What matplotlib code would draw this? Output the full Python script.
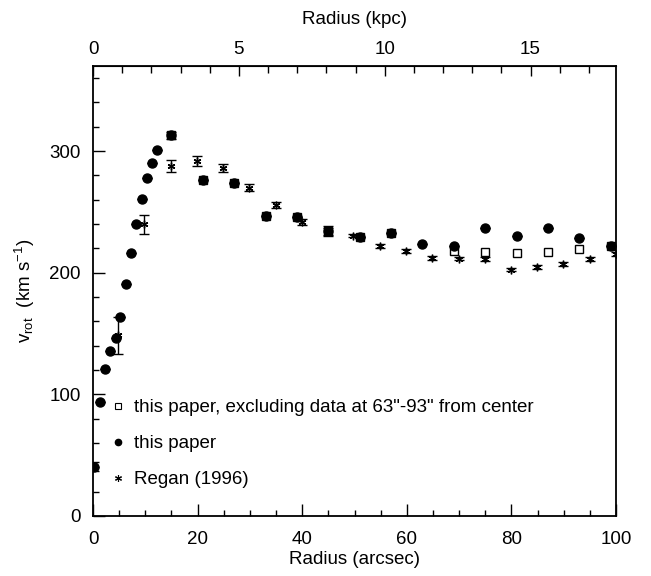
import matplotlib
matplotlib.use("Agg")
import matplotlib.pyplot as plt
from matplotlib.ticker import MultipleLocator, FixedLocator
from matplotlib.lines import Line2D

plt.rcParams['font.family'] = ['Liberation Sans', 'DejaVu Sans']
plt.rcParams['mathtext.fontset'] = 'custom'
plt.rcParams['mathtext.rm'] = 'Liberation Sans'
plt.rcParams['mathtext.it'] = 'Liberation Sans:italic'

# this paper (filled circles)
r_paper = [0.25, 1.3, 2.3, 3.3, 4.4, 5.2, 6.3, 7.3, 8.3, 9.3, 10.3, 11.3, 12.3,
           15, 21, 27, 33, 39, 45, 51, 57, 63, 69, 75, 81, 87, 93, 99]
v_paper = [40.6, 94, 121, 136, 146, 164, 190.5, 216, 240, 261, 278, 290, 301,
           313, 276.5, 274, 246.5, 246, 234.5, 229, 232.5, 224, 221.8, 236.4,
           230.3, 236.4, 228.7, 221.8]
e_paper = [4, 0, 0, 0, 0, 0, 0, 0, 0, 0, 0, 0, 0,
           3, 0, 0, 0, 0, 4, 0, 0, 0, 0, 0, 0, 0, 0, 0]

# this paper, excluding data at 63"-93" (open squares)
r_excl = [15, 21, 27, 33, 39, 45, 51, 57, 69, 75, 81, 87, 93, 99]
v_excl = [313, 276.5, 274, 246.5, 246, 234.5, 229, 232.5, 218.2, 216.9,
          216.6, 217.4, 219.6, 221.8]

# Regan (1996) (stars with errors)
r_regan = [4.8, 9.8, 14.9, 19.9, 24.9, 29.8, 34.9, 39.9, 45, 49.8, 54.9,
           59.9, 64.9, 70, 75, 79.9, 84.9, 89.9, 95, 100]
v_regan = [148.5, 239.7, 287.7, 292, 286, 270, 255.5, 242, 234, 230.6, 222,
           218, 212, 211.6, 211.4, 202.6, 204.8, 207, 211.4, 215.5]
e_regan = [15, 8, 4.7, 4, 3.5, 3, 2.5, 2.5, 3, 1.5, 1.5, 1.5, 1.5, 1.5,
           1.5, 1.5, 1.5, 1.5, 1.5, 1.5]

KPC_PER_ARCSEC = 0.1793
FS = 13.5

fig = plt.figure(figsize=(6.51, 5.76), dpi=100)
ax = fig.add_axes([0.1429, 0.1042, 0.8033, 0.7812])

ax.errorbar(r_regan, v_regan, yerr=e_regan, fmt='none', ecolor='black',
            elinewidth=1.0, capsize=3.5, capthick=1.0, zorder=2)
ax.plot(r_regan, v_regan, ls='none', marker=(6, 2, 0), ms=5.5, mew=1.0,
        color='black', zorder=3)
ax.plot(r_excl, v_excl, ls='none', marker='s', ms=5.5, mfc='white',
        mec='black', mew=1.0, zorder=3)
ax.errorbar(r_paper, v_paper, yerr=e_paper, fmt='o', ms=6.5, color='black',
            ecolor='black', elinewidth=1.0, capsize=3.5, capthick=1.0,
            zorder=4)

ax.set_xlim(0, 100)
ax.set_ylim(0, 370)
ax.xaxis.set_major_locator(MultipleLocator(20))
ax.xaxis.set_minor_locator(MultipleLocator(5))
ax.yaxis.set_major_locator(MultipleLocator(100))
ax.yaxis.set_minor_locator(MultipleLocator(20))
ax.tick_params(which='both', direction='in', top=False, right=False,
               labelsize=FS, width=1.0, color='black')
ax.tick_params(which='major', length=8.5, pad=9)
ax.tick_params(axis='x', which='major', pad=11)
ax.tick_params(which='minor', length=4.3)
for s in ax.spines.values():
    s.set_linewidth(1.3)

ax.set_xlabel('Radius (arcsec)', fontsize=FS, labelpad=2)
ax.set_ylabel(r'v$_{\rm rot}$  (km s$^{-1}$)', fontsize=FS, labelpad=9)

top = ax.secondary_xaxis('top', functions=(lambda a: a * KPC_PER_ARCSEC,
                                           lambda k: k / KPC_PER_ARCSEC))
top.xaxis.set_major_locator(FixedLocator([0, 5, 10, 15]))
top.xaxis.set_minor_locator(FixedLocator(list(range(0, 18))))
top.tick_params(which='both', direction='in', labelsize=FS, width=1.0)
top.tick_params(which='major', length=7, pad=6)
top.tick_params(which='minor', length=5)
top.set_xlabel('Radius (kpc)', fontsize=FS, labelpad=12)

handles = [
    Line2D([], [], ls='none', marker='s', ms=4.5, mfc='white', mec='black', mew=0.8),
    Line2D([], [], ls='none', marker='o', ms=4.5, color='black'),
    Line2D([], [], ls='none', marker=(6, 2, 0), ms=5, mew=0.8, color='black'),
]
labels = ['this paper, excluding data at 63"-93" from center',
          'this paper', 'Regan (1996)']
ax.legend(handles, labels, loc='lower left', bbox_to_anchor=(0.018, 0.045),
          frameon=False, fontsize=FS, handlelength=0.9, handletextpad=0.4,
          labelspacing=1.0, borderaxespad=0)

fig.savefig('out.png', dpi=100)
